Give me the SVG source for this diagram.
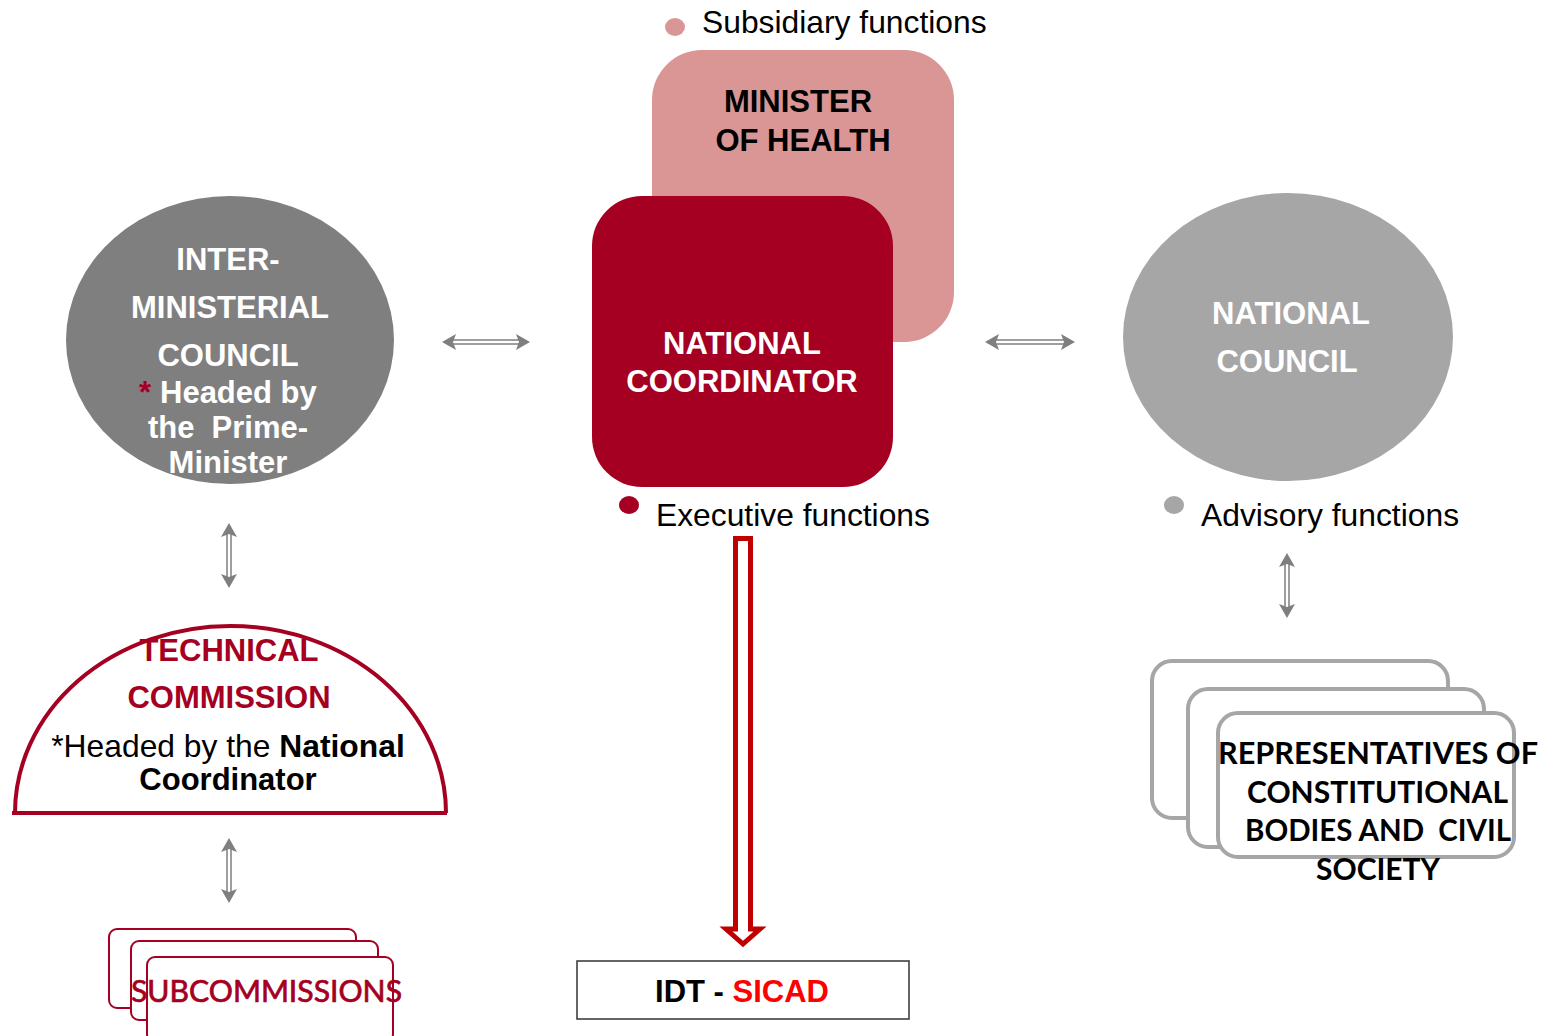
<svg xmlns="http://www.w3.org/2000/svg" width="1543" height="1036" viewBox="0 0 1543 1036">
<style>
.b{font-family:"Liberation Sans",Arial,sans-serif;font-weight:bold;font-size:31px}
.r{font-family:"Liberation Sans",Arial,sans-serif;font-size:31.8px;fill:#000}
.c{font-family:Lato,"Open Sans",sans-serif;font-size:30px}
.w{fill:#fff}
.head{fill:#7F7F7F}
.shaft{fill:#fff;stroke:#7F7F7F;stroke-width:1.5}
</style>
<rect width="1543" height="1036" fill="#fff"/>

<g id="legend-subsidiary">
<ellipse cx="675" cy="27" rx="10" ry="9" fill="#D99694"/>
<text class="r" x="702" y="33">Subsidiary functions</text>
</g>

<g id="minister">
<rect x="652" y="50" width="302" height="292" rx="50" fill="#D99694"/>
<text class="b" x="798" y="112" text-anchor="middle" fill="#000">MINISTER</text>
<text class="b" x="803" y="151" text-anchor="middle" fill="#000">OF HEALTH</text>
</g>

<g id="coordinator">
<rect x="592" y="196" width="301" height="291" rx="50" fill="#A50021"/>
<text class="b w" x="742" y="354" text-anchor="middle">NATIONAL</text>
<text class="b w" x="742" y="392" text-anchor="middle">COORDINATOR</text>
</g>

<g id="legend-executive">
<ellipse cx="629" cy="505" rx="10" ry="9" fill="#A50021"/>
<text class="r" x="656" y="526">Executive functions</text>
</g>

<g id="interministerial">
<ellipse cx="230" cy="340" rx="164" ry="144" fill="#7F7F7F"/>
<text class="b w" x="228" y="270" text-anchor="middle">INTER-</text>
<text class="b w" x="230" y="318" text-anchor="middle">MINISTERIAL</text>
<text class="b w" x="228" y="366" text-anchor="middle">COUNCIL</text>
<text class="b" x="139" y="403" fill="#A50021" font-size="26">*</text>
<text class="b w" x="160" y="403">Headed by</text>
<text class="b w" x="228" y="438" text-anchor="middle" xml:space="preserve">the  Prime-</text>
<text class="b w" x="228" y="473" text-anchor="middle">Minister</text>
</g>

<g id="national-council">
<ellipse cx="1288" cy="337" rx="165" ry="144" fill="#A6A6A6"/>
<text class="b w" x="1291" y="324" text-anchor="middle">NATIONAL</text>
<text class="b w" x="1287" y="372" text-anchor="middle">COUNCIL</text>
</g>

<g id="legend-advisory">
<ellipse cx="1174" cy="505" rx="10" ry="9" fill="#A6A6A6"/>
<text class="r" x="1201" y="526">Advisory functions</text>
</g>

<g id="technical-commission">
<path d="M15,813 A215.5,187 0 0 1 446,813" fill="#fff" stroke="#A50021" stroke-width="4"/>
<line x1="12" y1="813" x2="447" y2="813" stroke="#A50021" stroke-width="4"/>
<text class="b" x="229" y="661" text-anchor="middle" fill="#A50021">TECHNICAL</text>
<text class="b" x="229" y="708" text-anchor="middle" fill="#A50021">COMMISSION</text>
<text class="r" x="228" y="757" text-anchor="middle" font-size="32.8">*Headed by the <tspan font-weight="bold">National</tspan></text>
<text class="b" x="228" y="790" text-anchor="middle" fill="#000">Coordinator</text>
</g>

<g id="subcommissions">
<rect x="109" y="929" width="247" height="79" rx="8" fill="#fff" stroke="#A50021" stroke-width="2"/>
<rect x="131" y="941" width="247" height="79" rx="8" fill="#fff" stroke="#A50021" stroke-width="2"/>
<rect x="147" y="957" width="246" height="85" rx="8" fill="#fff" stroke="#A50021" stroke-width="2"/>
<text class="c" x="131" y="1002" fill="#A50021" stroke="#A50021" stroke-width="0.7" textLength="271" lengthAdjust="spacingAndGlyphs">SUBCOMMISSIONS</text>
</g>

<g id="idt-sicad">
<rect x="577" y="961" width="332" height="58" fill="#fff" stroke="#333" stroke-width="1.5"/>
<text class="b" x="742" y="1002" text-anchor="middle" fill="#000">IDT - <tspan fill="#FF0000">SICAD</tspan></text>
</g>

<g id="representatives">
<rect x="1152" y="661" width="296" height="157" rx="20" fill="#fff" stroke="#A6A6A6" stroke-width="4"/>
<rect x="1188" y="689" width="296" height="158" rx="20" fill="#fff" stroke="#A6A6A6" stroke-width="4"/>
<rect x="1218" y="713" width="296" height="144" rx="20" fill="#fff" stroke="#A6A6A6" stroke-width="4"/>
<text class="c" font-weight="bold" x="1218" y="764" fill="#000" textLength="320" lengthAdjust="spacingAndGlyphs">REPRESENTATIVES OF</text>
<text class="c" font-weight="bold" x="1247" y="803" fill="#000" textLength="261" lengthAdjust="spacingAndGlyphs">CONSTITUTIONAL</text>
<text class="c" font-weight="bold" x="1245" y="841" fill="#000" textLength="266" lengthAdjust="spacingAndGlyphs" xml:space="preserve">BODIES AND  CIVIL</text>
<text class="c" font-weight="bold" x="1316" y="880" fill="#000" textLength="124" lengthAdjust="spacingAndGlyphs">SOCIETY</text>
</g>

<g id="connectors">
<rect class="shaft" x="452" y="340" width="68" height="4"/>
<path class="head" d="M442,342 L456,334 L453,342 L456,350 Z"/>
<path class="head" d="M530,342 L516,334 L519,342 L516,350 Z"/>
<rect class="shaft" x="995" y="340" width="70" height="4"/>
<path class="head" d="M985,342 L999,334 L996,342 L999,350 Z"/>
<path class="head" d="M1075,342 L1061,334 L1064,342 L1061,350 Z"/>
<rect class="shaft" x="227" y="533" width="4" height="45"/>
<path class="head" d="M229,523 L221,537 L229,534 L237,537 Z"/>
<path class="head" d="M229,588 L221,574 L229,577 L237,574 Z"/>
<rect class="shaft" x="227" y="848" width="4" height="45"/>
<path class="head" d="M229,838 L221,852 L229,849 L237,852 Z"/>
<path class="head" d="M229,903 L221,889 L229,892 L237,889 Z"/>
<rect class="shaft" x="1285" y="563" width="4" height="45"/>
<path class="head" d="M1287,553 L1279,567 L1287,564 L1295,567 Z"/>
<path class="head" d="M1287,618 L1279,604 L1287,607 L1295,604 Z"/>
<path d="M735.5,538.5 H750.5 V929 H760 L743,944 L726,929 H735.5 Z" fill="#fff" stroke="#C00000" stroke-width="5"/>
</g>
</svg>
